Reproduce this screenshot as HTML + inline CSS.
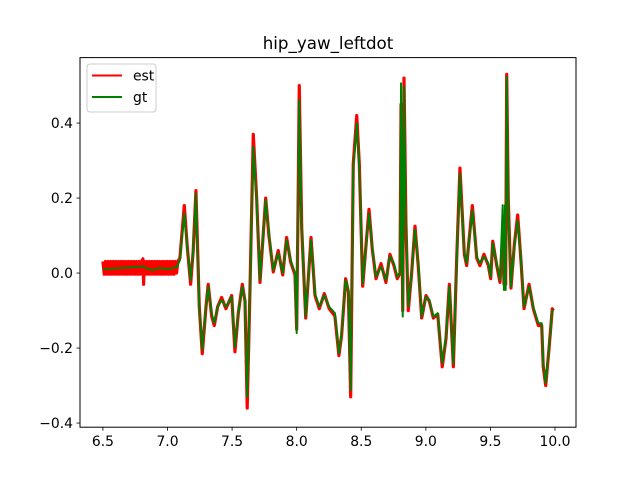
<!DOCTYPE html>
<html><head><meta charset="utf-8"><style>
body{margin:0;background:#fff}
svg{display:block;font-family:"DejaVu Sans","Liberation Sans",sans-serif}
</style></head><body>
<svg id="chart" width="640" height="480" viewBox="0 0 640 480">
<rect width="640" height="480" fill="#fff"/>
<text x="328" y="49" font-size="16.7" text-anchor="middle" fill="#000">hip_yaw_leftdot</text>
<g id="plot"></g>
<rect x="80" y="57.6" width="496" height="369.6" fill="none" stroke="#000" stroke-width="1"/>
<g id="axes"></g>
<g>
<rect x="87" y="64" width="69" height="48" rx="3" fill="#fff" fill-opacity="0.8" stroke="#ccc"/>
<g><line x1="92" y1="75.5" x2="122" y2="75.5" stroke="#f00" stroke-width="2"/><text x="133" y="80.5" font-size="13.9">est</text></g>
<g><line x1="92" y1="97" x2="122" y2="97" stroke="#008000" stroke-width="2"/><text x="133" y="102" font-size="13.9">gt</text></g>
</g>
</svg>
<script>
const xTicks=[6.5,7.0,7.5,8.0,8.5,9.0,9.5,10.0];
const xTickLabels=["6.5","7.0","7.5","8.0","8.5","9.0","9.5","10.0"];
const yTicks=[-0.4,-0.2,0.0,0.2,0.4];
const yTickLabels=["−0.4","−0.2","0.0","0.2","0.4"];
const gtT=[6.5,6.786,6.81,6.84,6.887,6.94,6.996,7.073,7.096,7.13,7.153,7.179,7.199,7.22,7.246,7.269,7.298,7.315,7.342,7.362,7.388,7.419,7.452,7.497,7.522,7.548,7.579,7.6,7.617,7.638,7.664,7.69,7.716,7.76,7.785,7.819,7.857,7.892,7.922,7.953,7.987,8.0,8.012,8.02,8.039,8.07,8.111,8.142,8.175,8.214,8.252,8.296,8.327,8.348,8.379,8.4,8.418,8.438,8.465,8.485,8.511,8.537,8.56,8.585,8.614,8.653,8.691,8.722,8.753,8.779,8.8,8.808,8.821,8.831,8.846,8.864,8.89,8.916,8.941,8.968,9.001,9.027,9.058,9.092,9.127,9.156,9.182,9.213,9.239,9.264,9.298,9.316,9.36,9.394,9.419,9.45,9.484,9.502,9.518,9.549,9.574,9.595,9.605,9.613,9.618,9.626,9.638,9.659,9.685,9.711,9.737,9.76,9.799,9.832,9.871,9.897,9.909,9.928,9.954,9.979,9.987];
const gtV=[0.01,0.017,0.018,0.012,0.008,0.014,0.01,0.016,0.035,0.159,0.07,-0.019,0.061,0.212,-0.09,-0.205,-0.09,-0.036,-0.107,-0.134,-0.09,-0.072,-0.09,-0.063,-0.197,-0.107,-0.036,-0.072,-0.33,-0.053,0.337,0.195,-0.019,0.195,0.107,0.008,0.053,0,0.088,0.035,0,-0.16,0.213,0.461,0.124,-0.116,0.088,-0.054,-0.09,-0.059,-0.09,-0.107,-0.214,-0.16,-0.019,-0.045,-0.312,0.275,0.399,0.283,-0.028,0.07,0.159,0.07,-0.01,0.017,-0.019,0.044,0.026,-0.01,0,0.506,-0.116,0.497,0.124,-0.09,0,0.115,0.026,-0.116,-0.063,-0.072,-0.116,-0.107,-0.241,-0.17,-0.036,-0.241,0.035,0.266,0.053,0.026,0.168,0.044,0.026,0.044,0.026,-0.01,0.079,0.026,-0.019,0.181,-0.045,0.181,-0.045,0.523,0.195,-0.036,0.07,0.141,0.035,-0.09,-0.036,-0.09,-0.134,-0.134,-0.241,-0.294,-0.197,-0.099,-0.102];
const estT=[6.50,6.51,6.52,6.53,6.54,6.55,6.56,6.57,6.58,6.59,6.60,6.61,6.62,6.63,6.64,6.65,6.66,6.67,6.68,6.69,6.70,6.71,6.72,6.73,6.74,6.75,6.76,6.77,6.78,6.79,6.80,6.81,6.815,6.82,6.83,6.84,6.85,6.86,6.87,6.88,6.89,6.90,6.91,6.92,6.93,6.94,6.95,6.96,6.97,6.98,6.99,7.00,7.01,7.02,7.03,7.04,7.05,7.06,7.07,7.08,7.096,7.13,7.153,7.179,7.199,7.22,7.246,7.269,7.298,7.315,7.342,7.362,7.388,7.419,7.452,7.497,7.522,7.548,7.579,7.6,7.617,7.638,7.664,7.69,7.716,7.76,7.785,7.819,7.857,7.892,7.922,7.953,7.987,8.0,8.012,8.02,8.039,8.07,8.111,8.142,8.175,8.214,8.252,8.296,8.327,8.348,8.379,8.4,8.418,8.438,8.465,8.485,8.511,8.537,8.56,8.585,8.614,8.653,8.691,8.722,8.753,8.779,8.8,8.808,8.821,8.831,8.846,8.864,8.89,8.916,8.941,8.968,9.001,9.027,9.058,9.092,9.127,9.156,9.182,9.213,9.239,9.264,9.298,9.316,9.36,9.394,9.419,9.45,9.484,9.502,9.518,9.549,9.574,9.595,9.605,9.613,9.618,9.626,9.638,9.659,9.685,9.711,9.737,9.76,9.799,9.832,9.871,9.897,9.909,9.928,9.954,9.979,9.987];
const estV=[0.031,-0.003,0.031,-0.003,0.031,-0.003,0.031,-0.003,0.031,-0.003,0.031,-0.003,0.031,-0.003,0.031,-0.003,0.031,-0.003,0.031,-0.003,0.031,-0.003,0.031,-0.003,0.031,-0.003,0.031,-0.003,0.031,-0.003,0.031,0.038,-0.03,0.031,-0.003,0.031,-0.003,0.031,-0.003,0.031,-0.003,0.031,-0.003,0.031,-0.003,0.031,-0.003,0.031,-0.003,0.031,-0.003,0.031,-0.003,0.031,-0.003,0.031,-0.003,0.031,0.0,0.031,0.04,0.18,0.07,-0.03,0.06,0.22,-0.09,-0.215,-0.09,-0.03,-0.115,-0.14,-0.09,-0.065,-0.095,-0.06,-0.21,-0.107,-0.03,-0.075,-0.36,-0.05,0.37,0.2,-0.025,0.2,0.1,0.003,0.06,-0.005,0.095,0.03,-0.005,-0.15,0.22,0.5,0.12,-0.12,0.095,-0.06,-0.095,-0.055,-0.095,-0.115,-0.22,-0.165,-0.015,-0.05,-0.33,0.29,0.42,0.29,-0.035,0.075,0.17,0.065,-0.015,0.025,-0.025,0.05,0.02,-0.015,0.0,0.45,-0.1,0.52,0.13,-0.1,0.0,0.125,0.02,-0.12,-0.06,-0.075,-0.12,-0.11,-0.25,-0.175,-0.03,-0.25,0.04,0.28,0.05,0.02,0.18,0.04,0.02,0.05,0.02,-0.015,0.085,0.02,-0.025,0.1,-0.03,0.1,-0.03,0.53,0.2,-0.04,0.075,0.155,0.03,-0.095,-0.03,-0.095,-0.14,-0.14,-0.25,-0.3,-0.2,-0.095,-0.1];

const NS="http://www.w3.org/2000/svg";
const X0=80,X1=576,Y0=57.6,Y1=427.2,TMIN=6.3225,TMAX=10.1625,VMIN=-0.411,VMAX=0.5745;
function sx(t){return X0+(t-TMIN)/(TMAX-TMIN)*(X1-X0);}
function sy(v){return Y1-(v-VMIN)/(VMAX-VMIN)*(Y1-Y0);}
function mk(tag,attrs,parent){const e=document.createElementNS(NS,tag);for(const k in attrs)e.setAttribute(k,attrs[k]);parent.appendChild(e);return e;}
const plot=document.getElementById('plot');
function line(T,V,color,w,name){
  let d='';for(let i=0;i<T.length;i++)d+=(i?'L':'M')+sx(T[i]).toFixed(2)+' '+sy(V[i]).toFixed(2);
  const p=mk('path',{d:d,fill:'none',stroke:color,'stroke-width':w,'stroke-linejoin':'round'},plot);
  
  
}
line(estT,estV,'#f00',3.2,'est-line');
line(gtT,gtV,'#008000',2,'gt-line');
const axes=document.getElementById('axes');
xTicks.forEach((t,i)=>{
  const x=sx(t);
  const g=mk('g',{},axes);
  
  
  mk('line',{x1:x,y1:Y1,x2:x,y2:Y1+3.5,stroke:'#000','stroke-width':0.8},g);
  const tx=mk('text',{x:x,y:Y1+19,'font-size':13.9,'text-anchor':'middle'},g);tx.textContent=xTickLabels[i];
});
yTicks.forEach((v,i)=>{
  const y=sy(v);
  const g=mk('g',{},axes);
  
  
  mk('line',{x1:X0-3.5,y1:y,x2:X0,y2:y,stroke:'#000','stroke-width':0.8},g);
  const tx=mk('text',{x:X0-7,y:y+5,'font-size':13.9,'text-anchor':'end'},g);tx.textContent=yTickLabels[i];
});
</script>
</body></html>
